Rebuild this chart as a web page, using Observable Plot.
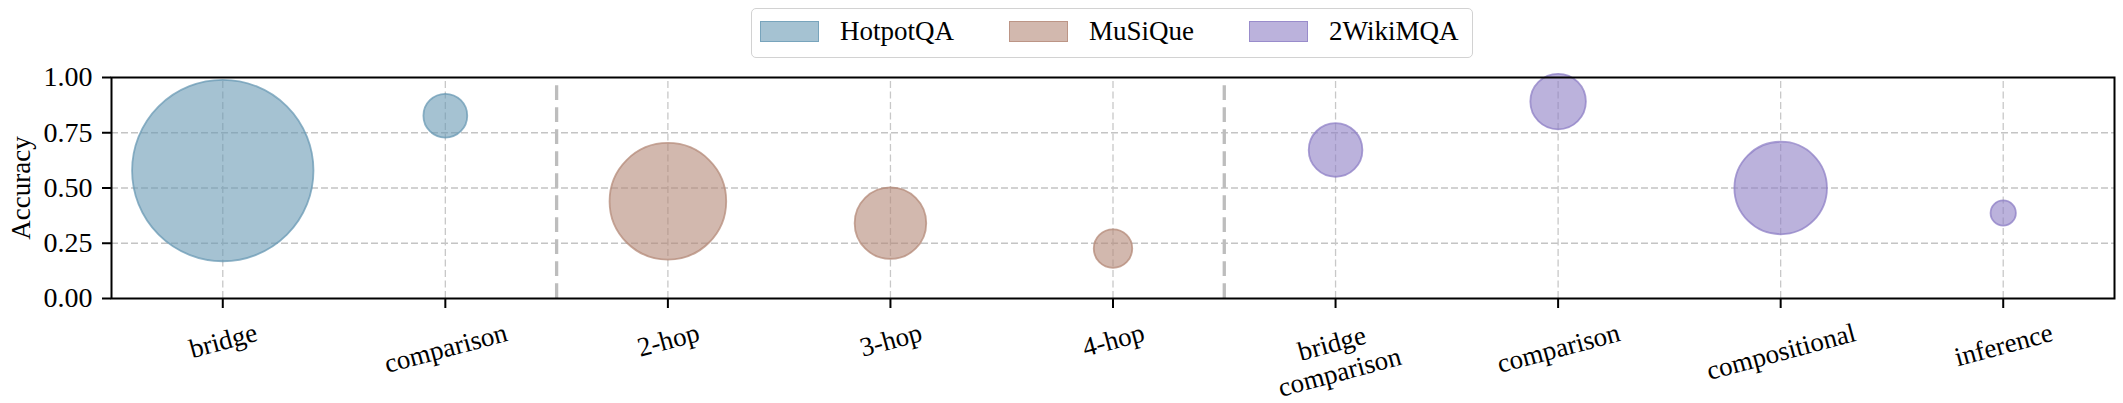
<!DOCTYPE html>
<html>
<head>
<meta charset="utf-8">
<script src="https://cdn.jsdelivr.net/npm/d3@7"></script>
<script src="https://cdn.jsdelivr.net/npm/@observablehq/plot@0.6"></script>
<style>
  html, body { margin: 0; padding: 0; background: #fff; }
  body { width: 2123px; }
  #legend { position: relative; height: 64px; }
  #legend .box {
    position: absolute; left: 751px; top: 8px; height: 45px;
    border: 1.5px solid #d2d2d2; border-radius: 5px;
    display: flex; align-items: center; padding: 0 14px 3px 8px; box-sizing: content-box;
  }
  #legend .item { display: flex; align-items: center; margin-right: 55px; }
  #legend .item:last-child { margin-right: 0; }
  #legend .sw { width: 57px; height: 19px; margin-right: 21px; }
  #legend .lab { font-size: 27px; line-height: 27px; color: #000; }
</style>
</head>
<body>
<div id="legend"><div class="box"></div></div>
<div id="chart"></div>
<script>
// ---- data ----
const datasets = ["HotpotQA", "MuSiQue", "2WikiMQA"];
const baseColors = ["#6999b4", "#b48978", "#8e7fc5"];
const categories = ["bridge", "comparison", "2-hop", "3-hop", "4-hop", "bridge\ncomparison", "comparison", "compositional", "inference"];
const groupOf = ["HotpotQA", "HotpotQA", "MuSiQue", "MuSiQue", "MuSiQue", "2WikiMQA", "2WikiMQA", "2WikiMQA", "2WikiMQA"];
const accuracy = [0.579, 0.827, 0.440, 0.341, 0.226, 0.672, 0.891, 0.500, 0.387];
const sampleSize = [822, 48, 340, 128, 37, 72, 77, 214, 16];
const yTicks = [0, 0.25, 0.5, 0.75, 1.0];

// ---- pick an installed serif font (Times-like) ----
const ctx = document.createElement("canvas").getContext("2d");
function widthIn(font) { ctx.font = "40px " + font; return ctx.measureText("HotpotQA bridge 0.75 Wiki").width; }
const refMono = widthIn("monospace");
const candidates = ["Liberation Serif", "Times New Roman", "Tinos", "Nimbus Roman", "FreeSerif", "DejaVu Serif", "Noto Serif"];
let chosen = null;
for (const c of candidates) {
  const a = widthIn(`'${c}', monospace`), b = widthIn(`'${c}', sans-serif`);
  if (Math.abs(a - b) < 0.01 && Math.abs(a - refMono) > 0.01) { chosen = c; break; }
}
const FONT = chosen ? `'${chosen}', serif` : "serif";
document.body.style.fontFamily = FONT;
const FS = 27;

// ---- derived table ----
const idx = categories.map((_, i) => i);
const table = idx.map(i => ({i, cat: categories[i], group: groupOf[i], acc: accuracy[i], n: sampleSize[i]}));
const separators = idx.slice(1).filter(i => groupOf[i] !== groupOf[i - 1]).map(i => i - 0.5);

// legend
const box = document.querySelector("#legend .box");
datasets.forEach((d, k) => {
  const it = document.createElement("div"); it.className = "item";
  const sw = document.createElement("div"); sw.className = "sw";
  const c = d3.color(baseColors[k]);
  sw.style.background = c.copy({opacity: 0.6}).formatRgb();
  sw.style.border = "1.5px solid " + c.copy({opacity: 0.75}).formatRgb();
  const lab = document.createElement("div"); lab.className = "lab"; lab.textContent = d;
  lab.style.fontFamily = FONT;
  it.appendChild(sw); it.appendChild(lab); box.appendChild(it);
});

// measure x labels to place rotated labels (matplotlib-like top alignment)
ctx.font = `${FS}px ${FONT}`;
const rot = 15 * Math.PI / 180;
const labelMarks = idx.map(i => {
  const lines = categories[i].split("\n");
  const multi = lines.length > 1;
  const lh = multi ? 1.1 : 1.2;
  const w = Math.max(...lines.map(l => ctx.measureText(l).width));
  const h = FS * 1.15 + (lines.length - 1) * FS * lh;
  const hr = w * Math.sin(rot) + h * Math.cos(rot);
  return Plot.text([i], {
    x: d => d, text: () => categories[i], frameAnchor: "bottom",
    dy: 17 + hr / 2 - (multi ? 4 : 0), rotate: -15, fontSize: FS, lineHeight: lh,
    textAnchor: "middle", lineAnchor: "middle", fill: "black", fontFamily: FONT
  });
});

const chart = Plot.plot({
  width: 2123,
  height: 339,
  marginTop: 13,
  marginBottom: 105,
  marginLeft: 111,
  marginRight: 9,
  style: {fontFamily: FONT, background: "white", overflow: "visible"},
  x: {type: "linear", domain: [-0.5, categories.length - 0.5]},
  y: {domain: [0, 1]},
  r: {type: "sqrt", domain: [0, d3.max(sampleSize)], range: [0, 90.7]},
  color: {domain: datasets, range: baseColors},
  marks: [
    Plot.ruleY(yTicks.filter(t => t > 0 && t < 1), {stroke: "#c4c4c4", strokeWidth: 1.6, strokeDasharray: "7,3"}),
    Plot.ruleX(idx, {x: d => d, y1: 0, y2: 1, stroke: "#c8c8c8", strokeWidth: 1.3, strokeDasharray: "7,3.5"}),
    Plot.ruleX(separators, {x: d => d, y1: 0, y2: 1, stroke: "#bdbdbd", strokeWidth: 3.3, strokeDasharray: "14.7,7.3"}),
    Plot.dot(table, {
      x: "i", y: "acc", r: "n",
      fill: "group", fillOpacity: 0.6,
      stroke: "group", strokeOpacity: 0.75, strokeWidth: 1.8
    }),
    Plot.frame({stroke: "black", strokeWidth: 2}),
    Plot.axisX({ticks: idx, tickSize: 10, strokeWidth: 2, tickFormat: () => "", label: null}),
    Plot.axisY({ticks: yTicks, tickSize: 9, tickPadding: 10, strokeWidth: 2, tickFormat: d3.format(".2f"), fontSize: 28, label: null, fill: "black", fontFamily: FONT}),
    Plot.text(["Accuracy"], {text: d => d, frameAnchor: "left", dx: -90.5, rotate: -90, fontSize: FS, textAnchor: "middle", lineAnchor: "middle", fill: "black", fontFamily: FONT}),
    ...labelMarks
  ]
});
document.getElementById("chart").appendChild(chart);
</script>
</body>
</html>
